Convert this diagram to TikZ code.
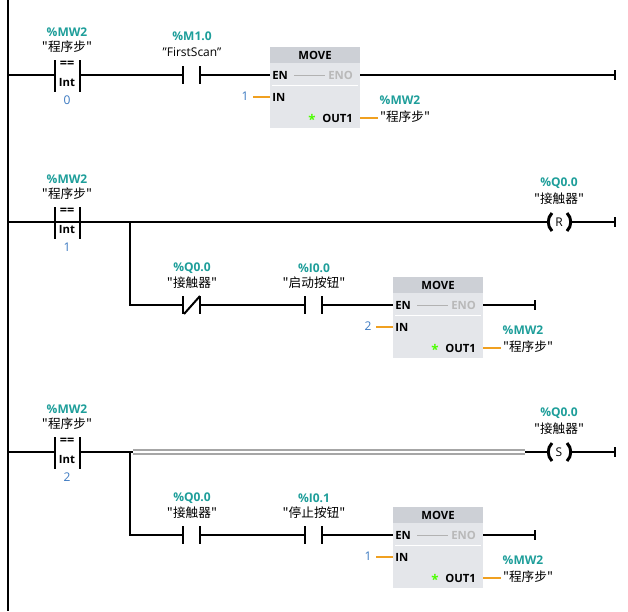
\documentclass[tikz,border=0pt]{standalone}
\usepackage{fontspec}
\setmainfont{Open Sans}
\newfontfamily\cjk{Noto Sans CJK SC}
\usetikzlibrary{positioning}
\definecolor{tagcol}{HTML}{1E9E9A}
\definecolor{constcol}{HTML}{3A78C0}
\definecolor{wirecol}{HTML}{F0A020}
\definecolor{boxcol}{HTML}{E4E6EA}
\definecolor{headcol}{HTML}{CDD0D6}
\tikzset{
  rung/.style={line width=1.5pt, black},
  bar/.style={line width=2.2pt, black},
  tag/.style={text=tagcol, font=\fontsize{9}{10}\selectfont\bfseries, inner sep=0pt},
  sym/.style={font=\fontsize{9}{10}\selectfont, inner sep=0pt},
  csym/.style={font=\cjk\fontsize{9.5}{10}\selectfont, inner sep=0pt},
  cst/.style={text=constcol, font=\fontsize{9}{10}\selectfont, inner sep=0pt},
  pin/.style={font=\fontsize{8.5}{10}\selectfont\bfseries, inner sep=0pt, anchor=west},
  param/.style={wirecol, line width=1.5pt},
}
% MOVE box, top left corner at #1,#2; #3 = constant at IN
\newcommand\movebox[3]{%
  \begin{scope}[shift={(#1,#2)}]
    \fill[boxcol] (0,0) rectangle (90,81);
    \fill[headcol] (0,0) rectangle (90,16);
    \node[pin] at (45,8) [anchor=center] {MOVE};
    \node[pin] (en) at (2,28) {EN};
    \node[pin, text=gray!55] (eno) at (58,28) {ENO};
    \draw[gray!60, line width=0.5pt] (24,28) -- (55,28);
    \draw[white, line width=0.6pt] (2,38) -- (88,38);
    \node[pin] (in) at (2,50) {IN};
    \node[pin] (out) at (52,71) {OUT1};
    \node[text=green!70!yellow, font=\fontsize{10}{10}\selectfont\bfseries, inner sep=0pt] at (42,72) {*};
    \draw[param] (-17,50) -- (0,50);
    \node[cst] at (-25,49) {#3};
    \draw[param] (90,71) -- (108,71);
    \node[tag] at (130,53) {\%MW2};
    \node[csym] at (135,70) {"程序步"};
  \end{scope}}
% contact centred at #1,#2
\newcommand\contact[2]{%
  \draw[bar] (#1-9,#2-9) -- (#1-9,#2+9) (#1+8,#2-9) -- (#1+8,#2+9);}
\newcommand\cmpint[3]{%
  \draw[bar] (55,#1-15) -- (55,#1+17) (80,#1-15) -- (80,#1+17);
  \node[pin, anchor=center, font=\fontsize{9.5}{10}\selectfont\bfseries] at (67,#1-11) {==};
  \node[pin, anchor=center] at (67,#1+8) {Int};
  \node[cst] at (67,#1+25) {#2};
  \node[tag] at (67,#1-43) {\%MW2};
  \node[csym] at (67,#1-28) {"程序步"};}
\newcommand\coil[3]{%
  \draw[bar] (#1-7,#2-9) .. controls (#1-12,#2-4) and (#1-12,#2+4) .. (#1-7,#2+9);
  \draw[bar] (#1+8,#2-9) .. controls (#1+13,#2-4) and (#1+13,#2+4) .. (#1+8,#2+9);
  \node[sym, anchor=center] at (#1,#2) {#3};
  \node[tag] at (#1,#2-39) {\%Q0.0};
  \node[csym] at (#1,#2-23) {"接触器"};}
\newcommand\railend[2]{\draw[rung] (#1,#2-5) -- (#1,#2+5);}

\begin{document}
\begin{tikzpicture}[x=0.75pt, y=-0.75pt]
  \useasboundingbox (0,0) rectangle (628,611);
  \draw[rung] (8,0) -- (8,611);

  % network 1
  \draw[rung] (8,75) -- (55,75) (80,75) -- (183,75) (200,75) -- (270,75) (360,75) -- (615,75);
  \railend{615}{75}
  \cmpint{75}{0}{}
  \contact{192}{75}
  \node[tag] at (192,36) {\%M1.0};
  \node[sym] at (192,52) {"FirstScan"};
  \movebox{270}{47}{1}

  % network 2
  \draw[rung] (8,222) -- (549,222) (570,222) -- (615,222);
  \railend{615}{222}
  \cmpint{222}{1}{}
  \coil{559}{222}{R}
  \draw[rung] (130,222) -- (130,305) -- (183,305) (200,305) -- (305,305) (322,305) -- (393,305) (483,305) -- (535,305);
  \railend{535}{305}
  \contact{192}{305}
  \draw[rung] (184,314) -- (200,296);
  \node[tag] at (192,268) {\%Q0.0};
  \node[csym] at (192,283) {"接触器"};
  \contact{314}{305}
  \node[tag] at (314,268) {\%I0.0};
  \node[csym] at (314,283) {"启动按钮"};
  \movebox{393}{277}{2}

  % network 3
  \draw[rung] (8,452) -- (55,452) (80,452) -- (133,452) (525,452) -- (549,452) (570,452) -- (615,452);
  \draw[gray!70, line width=1pt] (133,450) -- (525,450) (133,454) -- (525,454);
  \railend{615}{452}
  \cmpint{452}{2}{}
  \coil{559}{452}{S}
  \draw[rung] (130,452) -- (130,535) -- (183,535) (200,535) -- (305,535) (322,535) -- (393,535) (483,535) -- (535,535);
  \railend{535}{535}
  \contact{192}{535}
  \node[tag] at (192,498) {\%Q0.0};
  \node[csym] at (192,513) {"接触器"};
  \contact{314}{535}
  \node[tag] at (314,498) {\%I0.1};
  \node[csym] at (314,513) {"停止按钮"};
  \movebox{393}{507}{1}
\end{tikzpicture}
\end{document}
